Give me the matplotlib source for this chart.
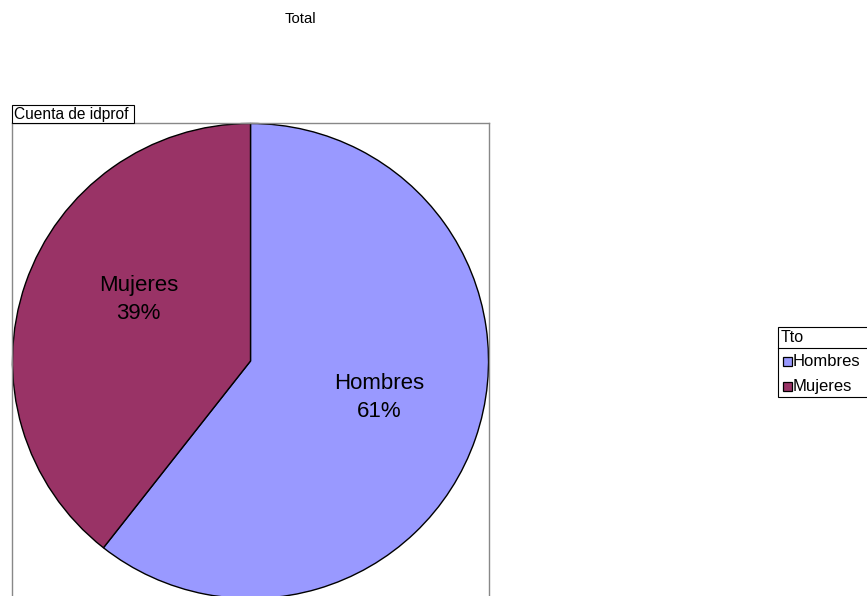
import matplotlib
matplotlib.use("Agg")
import matplotlib.pyplot as plt
from matplotlib.patches import Rectangle

plt.rcParams['font.family'] = ['Liberation Sans', 'DejaVu Sans']

# data
categories = ["Hombres", "Mujeres"]
shares = [60.6, 39.4]
colors = ["#9999FF", "#993366"]
title = "Total"
field_label = "Cuenta de idprof"
legend_title = "Tto"

W, H = 867, 596
fig = plt.figure(figsize=(W / 100, H / 100), dpi=100)

# pie area (pixel box of the plot frame)
px0, py0, pw, ph = 12, 123, 477, 476
ax = fig.add_axes([px0 / W, (H - py0 - ph) / H, pw / W, ph / H])
wedges, _ = ax.pie(shares, colors=colors, startangle=90, counterclock=False,
                   radius=1.0, wedgeprops=dict(edgecolor="black", linewidth=1.0))
ax.set_xlim(-1.002, 1.002)
ax.set_ylim(-1.002, 1.002)
ax.set_aspect("auto")
ax.set_frame_on(True)
ax.set_xticks([])
ax.set_yticks([])
for s in ax.spines.values():
    s.set_edgecolor("#888888")
    s.set_linewidth(1.0)

# slice labels
label_pos = [(0.54, -0.155), (-0.47, 0.26)]
for cat, val, (lx, ly) in zip(categories, shares, label_pos):
    ax.text(lx, ly, f"{cat}\n{round(val)}%", ha="center", va="center",
            fontsize=16, linespacing=1.42)

# overlay in pixel coordinates for title, field box, legend
ov = fig.add_axes([0, 0, 1, 1], zorder=5)
ov.set_xlim(0, W)
ov.set_ylim(H, 0)
ov.axis("off")
ov.patch.set_alpha(0)

ov.text(300, 19, title, ha="center", va="center", fontsize=10.7)

ov.add_patch(Rectangle((12, 105), 122, 18, facecolor="white", edgecolor="black", lw=0.8))
ov.text(14, 114.5, field_label, ha="left", va="center", fontsize=11.2)

# legend
lx0, ly0 = 778, 327
ov.add_patch(Rectangle((lx0, ly0), 95, 70, facecolor="white", edgecolor="black", lw=0.8))
ov.plot([lx0, W], [348, 348], color="black", lw=0.8)
ov.text(lx0 + 3, 338, legend_title, ha="left", va="center", fontsize=11.5)
for i, (cat, col) in enumerate(zip(categories, colors)):
    yy = 361 + i * 25
    ov.add_patch(Rectangle((lx0 + 5, yy - 4.5), 9, 9, facecolor=col, edgecolor="black", lw=0.9))
    ov.text(lx0 + 15, yy, cat, ha="left", va="center", fontsize=12)

fig.savefig("out.png", dpi=100)
